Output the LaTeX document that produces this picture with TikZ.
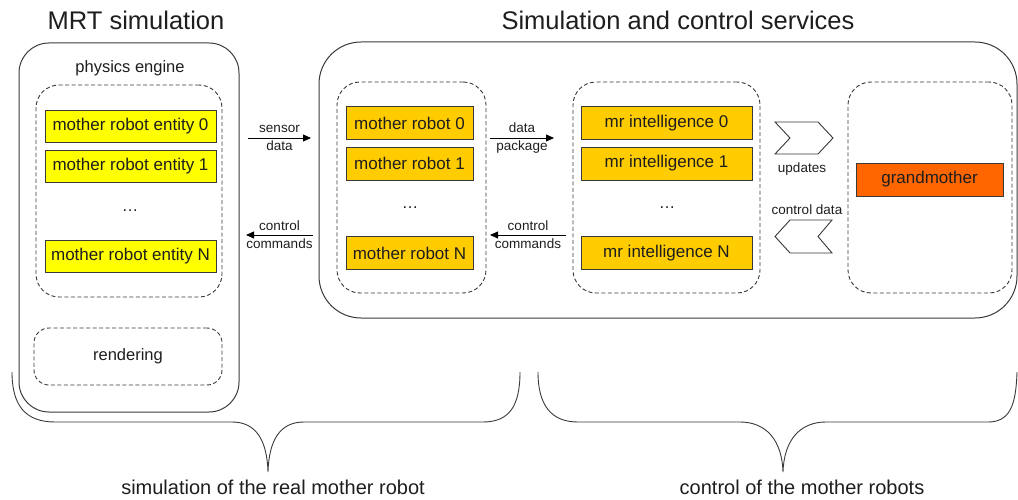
\documentclass[tikz,border=0pt]{standalone}
\usepackage{fontspec}
\setmainfont{Liberation Sans}
\usetikzlibrary{arrows.meta}
\definecolor{edge}{HTML}{3A3A3A}
\definecolor{dashc}{HTML}{383838}
\definecolor{entyellow}{HTML}{FFFF00}
\definecolor{robgold}{HTML}{FFCC00}
\definecolor{granny}{HTML}{FF6600}
\definecolor{ink}{HTML}{1E1E1E}
\begin{document}
\begin{tikzpicture}[x=1pt,y=-1pt,
  every node/.style={text=ink},
  title/.style={font=\fontsize{25.5}{28}\selectfont},
  caption/.style={font=\fontsize{20}{24}\selectfont},
  outerbox/.style={draw=edge, line width=1pt, inner sep=0pt},
  dashbox/.style={draw=dashc, line width=0.9pt, dash pattern=on 4pt off 2.5pt, rounded corners=23pt, inner sep=0pt},
  unitbox/.style={draw=edge, line width=0.8pt, inner sep=0pt, font=\fontsize{17}{20}\selectfont},
  entity/.style={unitbox, fill=entyellow, minimum width=171pt, minimum height=32pt},
  robot/.style={unitbox, fill=robgold, minimum width=127pt, minimum height=33pt},
  intel/.style={unitbox, fill=robgold, minimum width=171pt, minimum height=33pt},
  plain/.style={font=\fontsize{16.5}{20}\selectfont},
  lbl/.style={font=\fontsize{13.5}{18}\selectfont, align=center, inner sep=0pt},
  flow/.style={draw=black, line width=0.8pt, -{Triangle[length=8pt,width=7pt]}},
  chevron/.style={draw=dashc, line width=0.9pt, fill=white, line join=miter},
  brace/.style={draw=edge, line width=0.9pt}
]
\useasboundingbox (0,0) rectangle (1018,500);

% headings
\node[title] (t-left) at (136,20) {MRT simulation};
\node[title] (t-right) at (678,20) {Simulation and control services};

% ---------- MRT simulation ----------
\node[outerbox, rounded corners=30pt, minimum width=220pt, minimum height=369pt] (sim) at (129,227.5) {};
\node[plain] (phys-l) at (130,68) {physics engine};
\node[dashbox, minimum width=186pt, minimum height=212pt] (phys) at (129,191) {};
\node[entity] (e0) at (130.5,126) {mother robot entity 0};
\node[entity] (e1) at (130.5,166) {mother robot entity 1};
\node[plain] (edots) at (130,211) {\dots};
\node[entity] (eN) at (130.5,256) {mother robot entity N};
\node[dashbox, rounded corners=15pt, minimum width=188pt, minimum height=57pt, plain] (rend) at (128,356.5) {rendering};

% ---------- services ----------
\node[outerbox, rounded corners=42pt, minimum width=698pt, minimum height=276pt] (svc) at (668,180) {};

\node[dashbox, minimum width=149pt, minimum height=211pt] (robots) at (411.5,187.5) {};
\node[robot] (r0) at (409.5,123) {mother robot 0};
\node[robot] (r1) at (409.5,163.5) {mother robot 1};
\node[plain] (rdots) at (410,208) {\dots};
\node[robot] (rN) at (409.5,253) {mother robot N};

\node[dashbox, minimum width=187pt, minimum height=211pt] (intels) at (666.5,187.5) {};
\node[intel] (i0) at (666.5,123) {mr intelligence 0};
\node[intel] (i1) at (666.5,163.5) {mr intelligence 1};
\node[plain] (idots) at (667,208) {\dots};
\node[intel] (iN) at (666.5,253) {mr intelligence N};

\node[dashbox, minimum width=164pt, minimum height=211pt] (gbox) at (930,187.5) {};
\node[unitbox, fill=granny, minimum width=147pt, minimum height=33pt] (gm) at (929.5,179.5) {grandmother};

% ---------- data flow ----------
\coordinate (sd-a) at (248,138);
\coordinate (sd-b) at (311,138);
\draw[flow] (sd-a) -- (sd-b) node[midway, lbl] (sd-l) {sensor\\data};

\coordinate (cc-a) at (313,235);
\coordinate (cc-b) at (246,235);
\draw[flow] (cc-a) -- (cc-b) node[midway, lbl] (cc-l) {control\\commands};

\coordinate (dp-a) at (490,138);
\coordinate (dp-b) at (554,138);
\draw[flow] (dp-a) -- (dp-b) node[midway, lbl] (dp-l) {data\\package};

\coordinate (mc-a) at (566,235);
\coordinate (mc-b) at (490,235);
\draw[flow] (mc-a) -- (mc-b) node[midway, lbl] (mc-l) {control\\commands};

% chevrons between intelligences and grandmother
\draw[chevron] (775,122) -- (818,122) -- (833,138) -- (818,154) -- (775,154) -- (790,138) -- cycle;
\node[lbl] (upd) at (802,169) {updates};
\node[lbl] (cdat) at (807,210) {control data};
\draw[chevron] (832,220) -- (790,220) -- (775,236.5) -- (790,253) -- (832,253) -- (818,236.5) -- cycle;

% ---------- braces ----------
\draw[brace] (12,372) .. controls (12,405) and (25,422) .. (55,422) -- (232,422)
  .. controls (256,422) and (267,440) .. (268,472)
  .. controls (269,440) and (280,422) .. (304,422) -- (483,422)
  .. controls (510,422) and (520,405) .. (520,372);
\draw[brace] (538,372) .. controls (538,405) and (551,422) .. (578,422) -- (740,422)
  .. controls (766,422) and (782,440) .. (783,472)
  .. controls (784,440) and (800,422) .. (826,422) -- (988,422)
  .. controls (1010,422) and (1016,405) .. (1017,372);
\node[caption] (cap-l) at (273,487) {simulation of the real mother robot};
\node[caption] (cap-r) at (802,487) {control of the mother robots};
\end{tikzpicture}
\end{document}
